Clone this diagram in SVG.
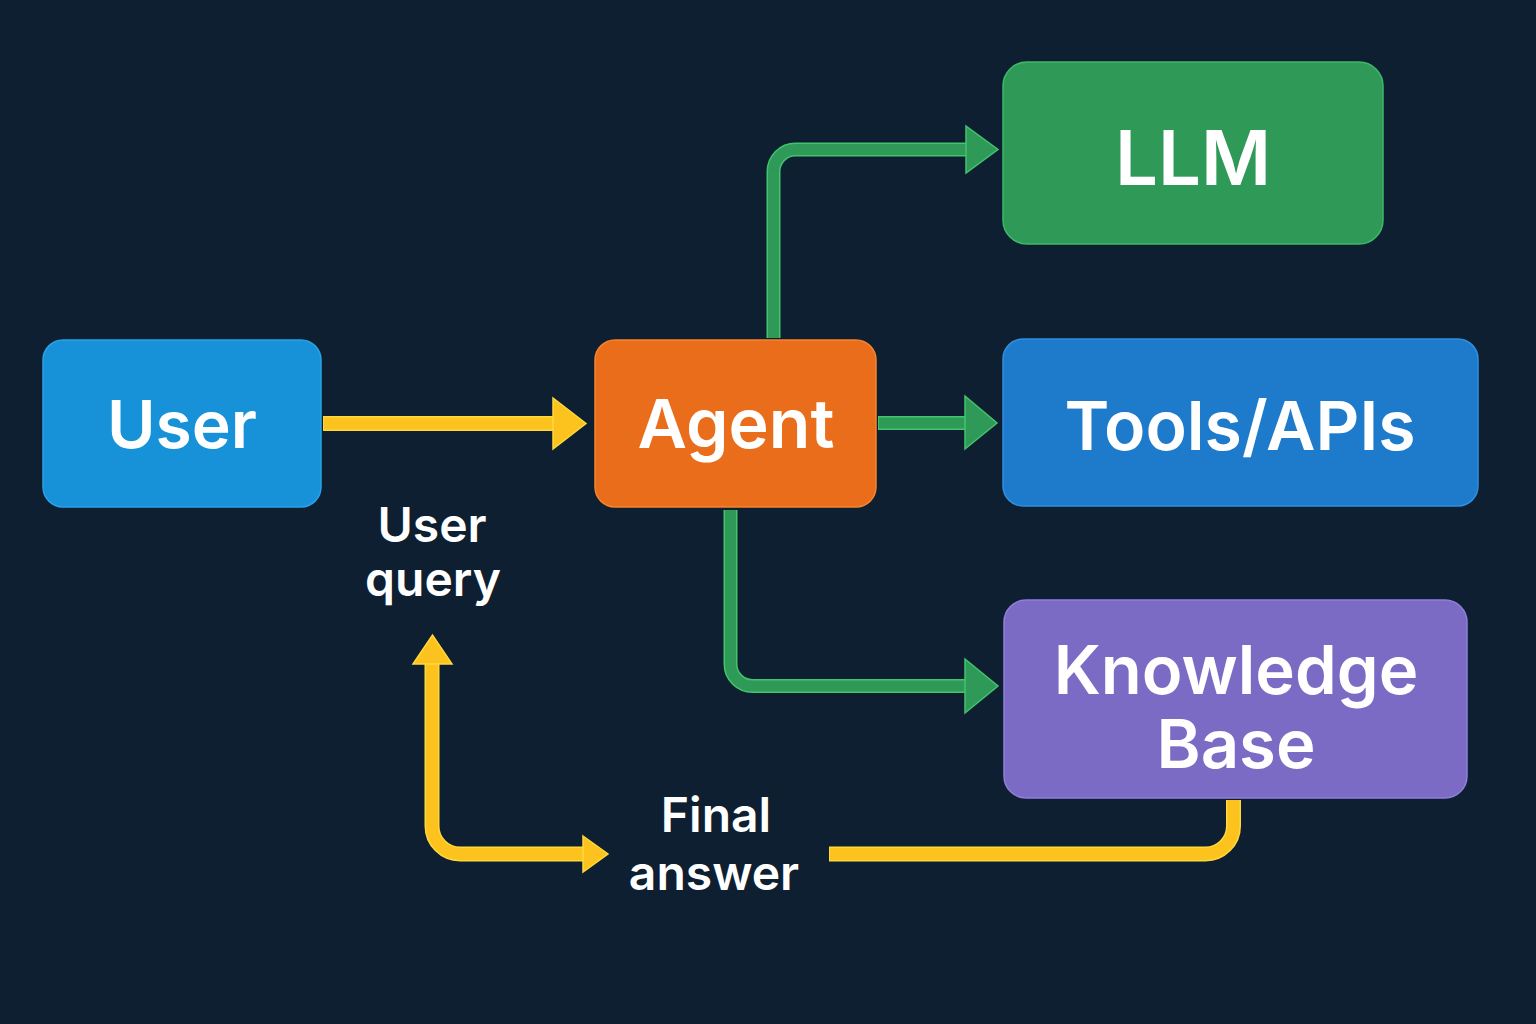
<svg xmlns="http://www.w3.org/2000/svg" width="1536" height="1024" viewBox="0 0 1536 1024">
<style>
.node-text{font-family:Inter,"Noto Sans","DejaVu Sans",sans-serif;font-weight:600;fill:#ffffff;text-anchor:middle}
.label{font-family:Inter,"Noto Sans","DejaVu Sans",sans-serif;font-weight:600;fill:#ffffff;text-anchor:middle;font-size:48px}
.yout{fill:none;stroke:#ffd93a;stroke-width:15}
.yin{fill:none;stroke:#fcc21e;stroke-width:12}
.gout{fill:none;stroke:#42c46c;stroke-width:14}
.gin{fill:none;stroke:#2f9a58;stroke-width:11}
.yhead{fill:#fcc21e;stroke:#ffd93a;stroke-width:1.5}
.ghead{fill:#2f9a58;stroke:#42c46c;stroke-width:1.5}
</style>
<rect width="1536" height="1024" fill="#0d1f31"/>
<g id="connectors">
  <g id="user-agent">
    <path class="yout" d="M323,423.5 H555"/><path class="yin" d="M324,423.5 H556"/>
    <polygon class="yhead" points="553,398 586,423.5 553,449"/>
  </g>
  <g id="agent-tools">
    <path class="gout" d="M878,423 H967"/><path class="gin" d="M879,423 H968"/>
    <polygon class="ghead" points="965,396 997,423 965,449"/>
  </g>
  <g id="agent-llm">
    <path class="gout" d="M773.5,338 V171.5 A22,22 0 0 1 795.5,149.5 H967"/>
    <path class="gin" d="M773.5,338 V171.5 A22,22 0 0 1 795.5,149.5 H968"/>
    <polygon class="ghead" points="966,126 998,149.5 966,173"/>
  </g>
  <g id="agent-kb">
    <path class="gout" d="M730.5,510 V664 A22,22 0 0 0 752.5,686 H967"/>
    <path class="gin" d="M730.5,510 V664 A22,22 0 0 0 752.5,686 H968"/>
    <polygon class="ghead" points="965,659 998,686 965,713"/>
  </g>
  <g id="kb-final">
    <path class="yout" d="M1233.5,800 V826 A28,28 0 0 1 1205.5,854 H829"/>
    <path class="yin" d="M1233.5,800 V826 A28,28 0 0 1 1205.5,854 H830"/>
  </g>
  <g id="final-user">
    <path class="yout" d="M584,854 H460 A28,28 0 0 1 432,826 V662"/>
    <path class="yin" d="M585,854 H460 A28,28 0 0 1 432,826 V661"/>
    <polygon class="yhead" points="413,664 432.5,635 452,664"/>
    <polygon class="yhead" points="583,836 608,854 583,872"/>
  </g>
</g>
<g id="user">
  <rect x="43" y="340" width="278" height="167" rx="20" fill="#1791d8" stroke="#2aa2e6" stroke-width="1.5"/>
  <text class="node-text" x="182" y="448" font-size="66">User</text>
</g>
<g id="agent">
  <rect x="595" y="340" width="281" height="167" rx="20" fill="#e96d1b" stroke="#f5842c" stroke-width="1.5"/>
  <text class="node-text" x="736" y="448" font-size="68">Agent</text>
</g>
<g id="llm">
  <rect x="1003" y="62" width="380" height="182" rx="24" fill="#2f9a57" stroke="#3fb86a" stroke-width="1.5"/>
  <text class="node-text" x="1193" y="185" font-size="76">LLM</text>
</g>
<g id="tools">
  <rect x="1003" y="339" width="475" height="167" rx="20" fill="#1e7bcc" stroke="#2f8fe0" stroke-width="1.5"/>
  <text class="node-text" x="1240" y="450" font-size="68">Tools/APIs</text>
</g>
<g id="kb">
  <rect x="1004" y="600" width="463" height="198" rx="22" fill="#7b6bc5" stroke="#907fdb" stroke-width="1.5"/>
  <text class="node-text" x="1236" y="694" font-size="67">Knowledge</text>
  <text class="node-text" x="1236" y="768" font-size="67">Base</text>
</g>
<g id="labels">
  <text class="label" x="432" y="542">User</text>
  <text class="label" x="433" y="596">query</text>
  <text class="label" x="716" y="832" font-size="52">Final</text>
  <text class="label" x="714" y="890" font-size="52">answer</text>
</g>
</svg>
